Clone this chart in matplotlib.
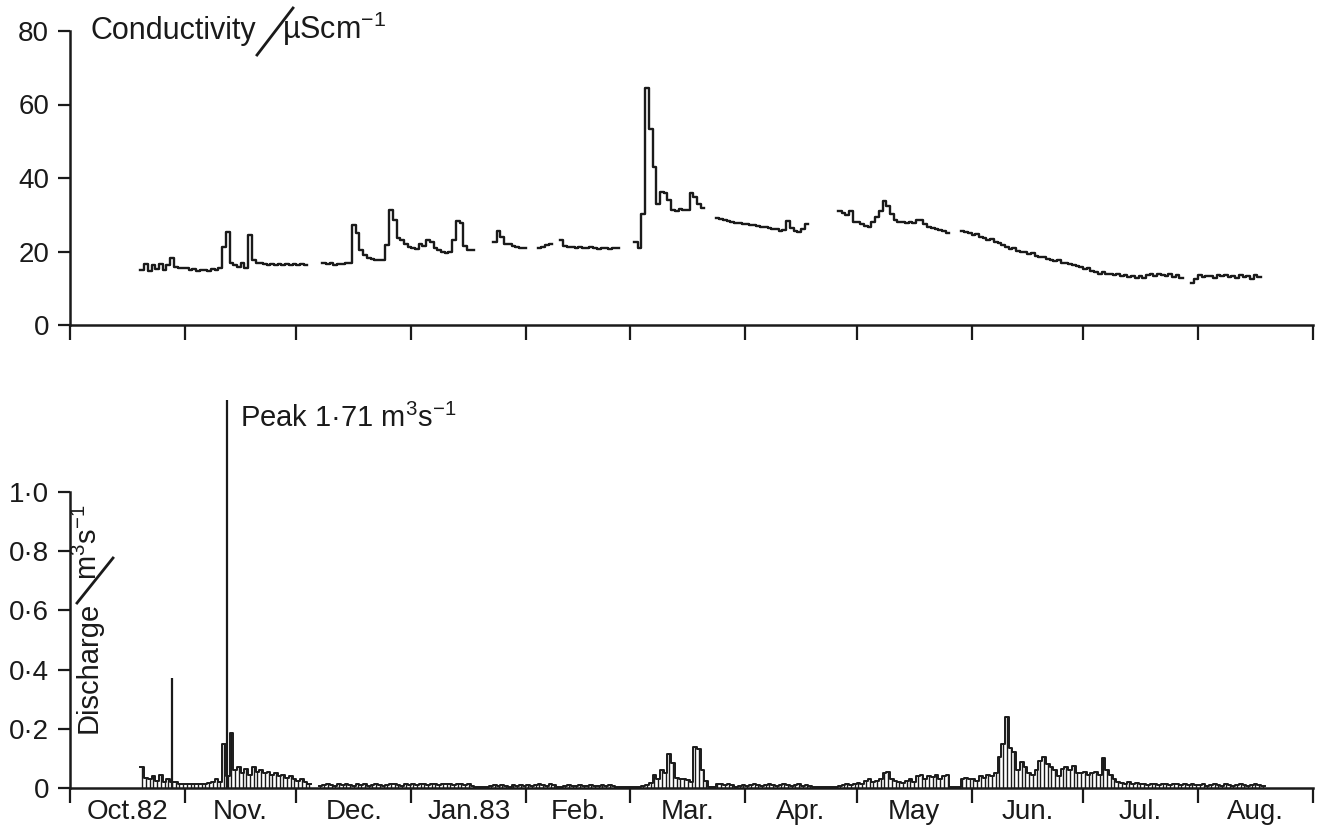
import numpy as np
import matplotlib
matplotlib.use('Agg')
import matplotlib.pyplot as plt
from matplotlib.lines import Line2D

plt.rcParams['font.family'] = ['Liberation Sans', 'DejaVu Sans']
plt.rcParams['mathtext.fontset'] = 'custom'
plt.rcParams['mathtext.rm'] = 'Liberation Sans'
plt.rcParams['mathtext.it'] = 'Liberation Sans:italic'
plt.rcParams['mathtext.bf'] = 'Liberation Sans:bold'

nan = np.nan
ink = '#1a1a1a'

# day 0 = 1 Oct 1982, one value per day
month_start = [0, 31, 61, 92, 123, 151, 182, 212, 243, 273, 304, 335]
month_labels = ['Oct.82', 'Nov.', 'Dec.', 'Jan.83', 'Feb.', 'Mar.', 'Apr.',
                'May', 'Jun.', 'Jul.', 'Aug.']

# conductivity (uS/cm)
cond_oct = [nan] * 19 + [15.0, 16.5, 14.8, 16.4, 15.2, 16.6, 15.0, 16.2, 18.2, 15.8, 15.4, 15.6]
cond_nov = [15.4, 15.0, 15.2, 14.8, 15.0, 15.1, 14.7, 15.2, 15.0, 15.6, 21.3, 25.3, 17.0, 16.4, 15.8,
            17.0, 15.5, 24.5, 17.6, 17.0, 16.8, 16.5, 16.3, 16.5, 16.2, 16.5, 16.3, 16.5, 16.2, 16.5]
cond_dec = [16.3, 16.5, 16.3, nan, nan, nan, nan, 16.8, 16.5, 16.8, 16.3, 16.5, 16.5, 16.8, 17.0, 27.2,
            25.0, 20.4, 19.0, 18.2, 18.0, 17.8, 17.6, 17.8, 21.8, 31.3, 28.5, 23.7, 23.0, 22.0, 21.3]
cond_jan = [21.0, 20.8, 22.0, 21.5, 23.0, 22.5, 21.0, 20.5, 19.8, 19.5, 20.0, 23.0, 28.4, 27.8, 21.5, 20.5,
            20.5, nan, nan, nan, nan, nan, 22.5, 25.7, 24.0, 22.0, 22.0, 21.5, 21.3, 21.0, 21.0]
cond_feb = [nan, nan, nan, 21.0, 21.3, 21.8, 22.0, nan, nan, 23.0, 21.5, 21.3, 21.2, 21.0, 21.2, 21.0,
            21.0, 21.2, 21.0, 20.8, 21.0, 21.0, 20.8, 21.0, 20.9, nan, nan, nan]
cond_mar = [nan, 22.5, 21.0, 30.2, 64.5, 53.4, 43.0, 33.0, 36.3, 35.9, 34.0, 31.3, 31.0, 31.5, 31.2, 31.3,
            35.9, 34.8, 33.0, 31.8, nan, nan, nan, 29.2, 28.8, 28.5, 28.2, 28.0, 27.8, 27.7, 27.6]
cond_apr = [27.5, 27.3, 27.2, 27.0, 26.8, 26.7, 26.5, 26.2, 26.0, 25.6, 25.8, 28.3, 26.3, 25.5, 25.3,
            26.0, 27.6, nan, nan, nan, nan, nan, nan, nan, nan, 31.0, 30.5, 30.0, 31.0, 28.0]
cond_may = [28.0, 27.5, 27.0, 26.8, 28.0, 29.5, 31.0, 33.7, 32.5, 30.2, 28.5, 28.0, 28.0, 27.8, 28.0, 27.8,
            28.5, 28.5, 27.5, 26.7, 26.5, 26.0, 25.8, 25.5, 25.0, nan, nan, nan, 25.6, 25.2, 25.0]
cond_jun = [24.5, 24.8, 24.0, 23.6, 23.2, 23.5, 22.6, 22.2, 21.8, 21.2, 20.8, 21.0, 20.2, 20.0, 19.8,
            19.3, 19.5, 18.8, 18.5, 18.6, 18.0, 17.8, 17.5, 17.8, 17.0, 16.8, 16.6, 16.3, 16.0, 15.8]
cond_jul = [15.2, 15.5, 14.8, 14.5, 14.0, 14.3, 13.8, 14.0, 13.5, 13.8, 13.2, 13.6, 13.0, 13.4, 12.8, 13.2,
            12.7, 13.5, 13.8, 13.2, 14.0, 13.5, 13.2, 13.8, 13.0, 13.5, 12.8, nan, nan, 11.3, 12.5]
cond_aug = [13.5, 13.0, 13.4, 13.2, 12.8, 13.5, 13.2, 13.6, 13.0, 13.4, 12.8, 13.5, 13.0, 13.2, 12.5,
            13.6, 13.0] + [nan] * 14

# discharge (m3/s)
q_oct = [nan] * 19 + [0.07, 0.035, 0.03, 0.04, 0.025, 0.045, 0.02, 0.03, 0.02, 0.02, 0.015, 0.015]
q_nov = [0.015, 0.012, 0.015, 0.012, 0.015, 0.015, 0.018, 0.02, 0.03, 0.02, 0.15, 0.04, 0.185, 0.06, 0.07,
         0.05, 0.065, 0.045, 0.07, 0.055, 0.06, 0.05, 0.055, 0.045, 0.05, 0.04, 0.045, 0.035, 0.04, 0.03]
q_dec = [0.025, 0.03, 0.02, 0.015, nan, nan, 0.008, 0.01, 0.012, 0.01, 0.008, 0.012, 0.01, 0.014, 0.01,
         0.008, 0.012, 0.01, 0.014, 0.008, 0.01, 0.012, 0.01, 0.008, 0.01, 0.012, 0.014, 0.01, 0.008, 0.012, 0.01]
q_jan = [0.012, 0.01, 0.014, 0.012, 0.01, 0.015, 0.012, 0.01, 0.014, 0.012, 0.015, 0.01, 0.012, 0.014, 0.01,
         0.012, 0.008, 0.002, 0.002, 0.002, 0.002, 0.008, 0.01, 0.006, 0.01, 0.008, 0.004, 0.01, 0.008, 0.01, 0.006]
q_feb = [0.01, 0.008, 0.01, 0.012, 0.01, 0.008, 0.012, 0.01, 0.002, 0.002, 0.008, 0.01, 0.006, 0.008,
         0.01, 0.006, 0.008, 0.01, 0.008, 0.006, 0.01, 0.008, 0.01, 0.008, 0.002, 0.002, 0.002, 0.002]
q_mar = [0.002, 0.004, 0.002, 0.006, 0.01, 0.017, 0.044, 0.03, 0.06, 0.05, 0.115, 0.083, 0.035, 0.03, 0.032,
         0.028, 0.02, 0.14, 0.13, 0.06, 0.025, 0.004, 0.004, 0.015, 0.012, 0.01, 0.012, 0.01, 0.004, 0.008, 0.01]
q_apr = [0.008, 0.01, 0.012, 0.01, 0.008, 0.01, 0.012, 0.01, 0.008, 0.01, 0.012, 0.01, 0.008, 0.01, 0.012,
         0.008, 0.01, 0.006, 0.002, 0.002, 0.002, 0.002, 0.002, 0.002, 0.002, 0.008, 0.01, 0.012, 0.01, 0.015]
q_may = [0.018, 0.015, 0.025, 0.03, 0.02, 0.025, 0.03, 0.05, 0.055, 0.03, 0.025, 0.02, 0.018, 0.025, 0.03,
         0.02, 0.04, 0.045, 0.03, 0.04, 0.038, 0.045, 0.03, 0.04, 0.045, 0.002, 0.002, 0.002, 0.03, 0.035, 0.03]
q_jun = [0.03, 0.025, 0.04, 0.035, 0.045, 0.04, 0.05, 0.105, 0.15, 0.24, 0.135, 0.12, 0.06, 0.088, 0.07,
         0.05, 0.045, 0.06, 0.09, 0.105, 0.08, 0.07, 0.06, 0.04, 0.065, 0.07, 0.06, 0.074, 0.05, 0.05]
q_jul = [0.055, 0.045, 0.05, 0.055, 0.045, 0.1, 0.06, 0.045, 0.03, 0.02, 0.018, 0.015, 0.02, 0.015, 0.018,
         0.012, 0.015, 0.01, 0.012, 0.015, 0.01, 0.012, 0.015, 0.01, 0.012, 0.015, 0.01, 0.012, 0.01, 0.012, 0.01]
q_aug = [0.01, 0.012, 0.008, 0.01, 0.012, 0.01, 0.008, 0.012, 0.01, 0.008, 0.01, 0.012, 0.01, 0.008, 0.01,
         0.012, 0.01, 0.008] + [nan] * 13

# short flood peaks
spike_day = [27.5, 42.3]
spike_q = [0.37, 1.71]

cond = np.array(cond_oct + cond_nov + cond_dec + cond_jan + cond_feb + cond_mar
                + cond_apr + cond_may + cond_jun + cond_jul + cond_aug)
q = np.array(q_oct + q_nov + q_dec + q_jan + q_feb + q_mar
             + q_apr + q_may + q_jun + q_jul + q_aug)
days = np.arange(len(cond)) + 0.5

W, H = 1326, 833
fig = plt.figure(figsize=(W / 100, H / 100), dpi=100)


def fx(px):
    return px / W


def fy(py):
    return 1 - py / H


ax1 = fig.add_axes([fx(70), fy(325), (1313 - 70) / W, (325 - 31) / H])
ax2 = fig.add_axes([fx(70), fy(788), (1313 - 70) / W, (788 - 400) / H])

# conductivity
ax1.plot(days, cond, drawstyle='steps-mid', color=ink, lw=1.7)
ax1.set_xlim(0, 335)
ax1.set_ylim(0, 80)
ax1.set_yticks([0, 20, 40, 60, 80])

# discharge
ok = ~np.isnan(q)
ax2.vlines(days[ok], 0, q[ok], color=ink, lw=1.0)
ax2.plot(days, q, drawstyle='steps-mid', color=ink, lw=1.4)
ax2.vlines(spike_day, 0, spike_q, color=ink, lw=1.6)
ax2.set_xlim(0, 335)
ax2.set_ylim(0, 1.31)
ax2.set_yticks([0, 0.2, 0.4, 0.6, 0.8, 1.0])
ax2.set_yticklabels(['0', '0·2', '0·4', '0·6', '0·8', '1·0'])

for ax in (ax1, ax2):
    for s in ('top', 'right'):
        ax.spines[s].set_visible(False)
    for s in ('left', 'bottom'):
        ax.spines[s].set_linewidth(1.8)
        ax.spines[s].set_color(ink)
    ax.set_xticks(month_start)
    ax.set_xticklabels([])
    ax.tick_params(axis='x', which='major', direction='out', length=11, width=1.6, color=ink)
    ax.tick_params(axis='y', direction='out', length=9, width=1.6, pad=6,
                   labelsize=20, color=ink, labelcolor=ink)
    ax.patch.set_alpha(0)

ax1.spines['left'].set_bounds(0, 80)
ax2.spines['left'].set_bounds(0, 1.0)

mids = [(a + b) / 2 for a, b in zip(month_start[:-1], month_start[1:])]
ax2.set_xticks(mids, minor=True)
ax2.set_xticklabels(month_labels, minor=True)
ax2.tick_params(axis='x', which='minor', length=0, pad=8, labelsize=20, labelcolor=ink)

# axis titles
fig.text(fx(90), fy(39), 'Conductivity', fontsize=22, color=ink, ha='left', va='baseline')
fig.text(fx(282), fy(39), 'µScm$^{-1}$', fontsize=22, color=ink, ha='left', va='baseline')
fig.add_artist(Line2D([fx(257), fx(293)], [fy(55), fy(8)], transform=fig.transFigure,
                      color=ink, lw=2))

fig.text(fx(97), fy(733), 'Discharge', fontsize=21, color=ink, rotation=90,
         rotation_mode='anchor', ha='left', va='baseline')
fig.text(fx(97), fy(580), 'm$^3$s$^{-1}$', fontsize=21, color=ink, rotation=90,
         rotation_mode='anchor', ha='left', va='baseline')
fig.add_artist(Line2D([fx(77), fx(113)], [fy(603), fy(558)], transform=fig.transFigure,
                      color=ink, lw=2))

ax2.text(spike_day[1] + 3.5, 1.22, 'Peak 1·71 m$^3$s$^{-1}$', fontsize=21, color=ink,
         ha='left', va='baseline')

fig.savefig('out.png', dpi=100, facecolor='white')
